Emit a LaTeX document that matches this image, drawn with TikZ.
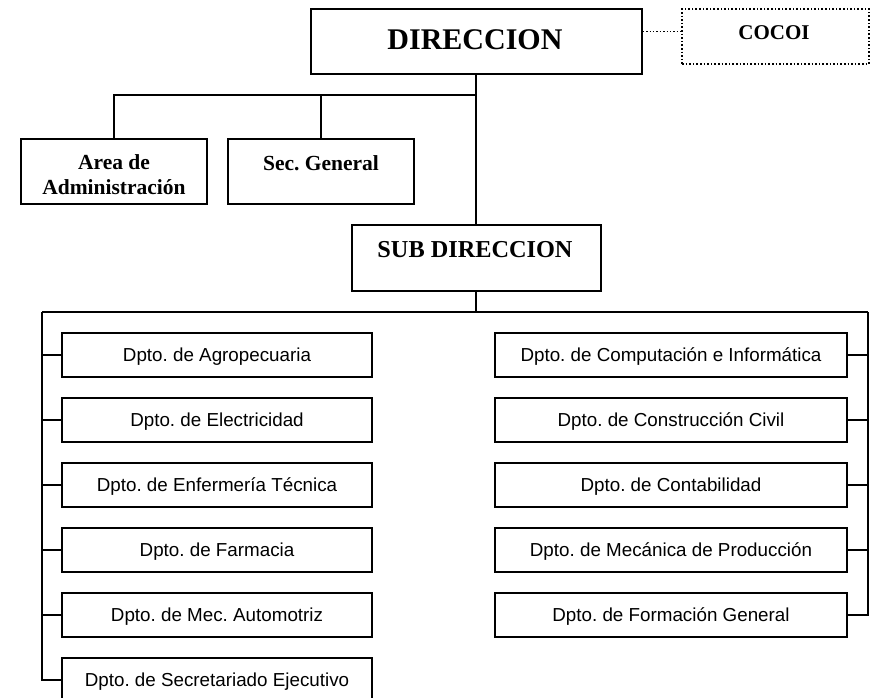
\documentclass[tikz,border=0pt]{standalone}
\usepackage{fontspec}
\setmainfont{Liberation Serif}
\newfontfamily\arialf{Liberation Sans}
\begin{document}
\frenchspacing
\begin{tikzpicture}[x=1pt,y=-1pt,
  line width=1.4pt,
  boxbase/.style={draw=black, rectangle, inner sep=0pt, fill=white},
  topbox/.style={boxbase},
  dotbox/.style={boxbase, dotted, line width=1.6pt},
  toptext/.style={font=\bfseries\fontsize{21.5}{25}\selectfont, inner sep=0pt, align=center},
  deptbox/.style={boxbase, minimum height=44pt, text height=13.5pt, text depth=0pt, font=\arialf\fontsize{18.8}{22}\selectfont},
  leftdept/.style={deptbox, minimum width=310pt},
  rightdept/.style={deptbox, minimum width=352pt},
  conn/.style={draw=black, line width=1.4pt}
]
\useasboundingbox (0,0) rectangle (871,697);

% top level
\node[topbox, minimum width=331pt, minimum height=65pt] (dir) at (476.5,41.5) {};
\node[toptext, font=\bfseries\fontsize{30}{34}\selectfont] (dirt) at (475,40) {DIRECCION};
\node[dotbox, minimum width=187pt, minimum height=55pt] (cocoi) at (775.5,36.5) {};
\node[toptext, font=\bfseries\fontsize{21}{25}\selectfont] (cocoit) at (774,33) {COCOI};
\coordinate (dl) at (cocoi.west |- 0,31);
\draw[conn, dotted, line width=1pt] (dir.east |- dl) -- (dl);

\node[topbox, minimum width=186pt, minimum height=65pt] (area) at (114,171.5) {};
\node[toptext] (areat) at (114,175) {Area de\\Administración};
\node[topbox, minimum width=186pt, minimum height=65pt] (sec) at (321,171.5) {};
\node[toptext] (sect) at (321,163) {Sec. General};

\node[topbox, minimum width=249pt, minimum height=66pt] (sub) at (476.5,258) {};
\node[toptext, font=\bfseries\fontsize{24.3}{28}\selectfont] (subt) at (475,250) {SUB DIRECCION};

\coordinate (j1) at (476,95);
\draw[conn] (dir.south -| j1) -- (sub.north -| j1);
\draw[conn] (area.north) |- (j1);
\draw[conn] (sec.north) -- (sec.north |- j1);

% departments
\node[leftdept] (L1) at (217,355) {Dpto. de Agropecuaria};
\node[leftdept] (L2) at (217,420) {Dpto. de Electricidad};
\node[leftdept] (L3) at (217,485) {Dpto. de Enfermería Técnica};
\node[leftdept] (L4) at (217,550) {Dpto. de Farmacia};
\node[leftdept] (L5) at (217,615) {Dpto. de Mec. Automotriz};
\node[leftdept] (L6) at (217,680) {Dpto. de Secretariado Ejecutivo};

\node[rightdept] (R1) at (671,355) {Dpto. de Computación e Informática};
\node[rightdept] (R2) at (671,420) {Dpto. de Construcción Civil};
\node[rightdept] (R3) at (671,485) {Dpto. de Contabilidad};
\node[rightdept] (R4) at (671,550) {Dpto. de Mecánica de Producción};
\node[rightdept] (R5) at (671,615) {Dpto. de Formación General};

\coordinate (lt) at (42,312);
\coordinate (rt) at (868,312);
\draw[conn] (sub.south -| j1) -- (j1 |- lt);
\draw[conn] (lt) -- (rt);
\draw[conn] (lt) |- (L6.west);
\draw[conn] (rt) |- (R5.east);
\foreach \n in {L1,L2,L3,L4,L5} {\draw[conn] (\n.west) -- (\n.west -| lt);}
\foreach \n in {R1,R2,R3,R4} {\draw[conn] (\n.east) -- (\n.east -| rt);}
\end{tikzpicture}
\end{document}
